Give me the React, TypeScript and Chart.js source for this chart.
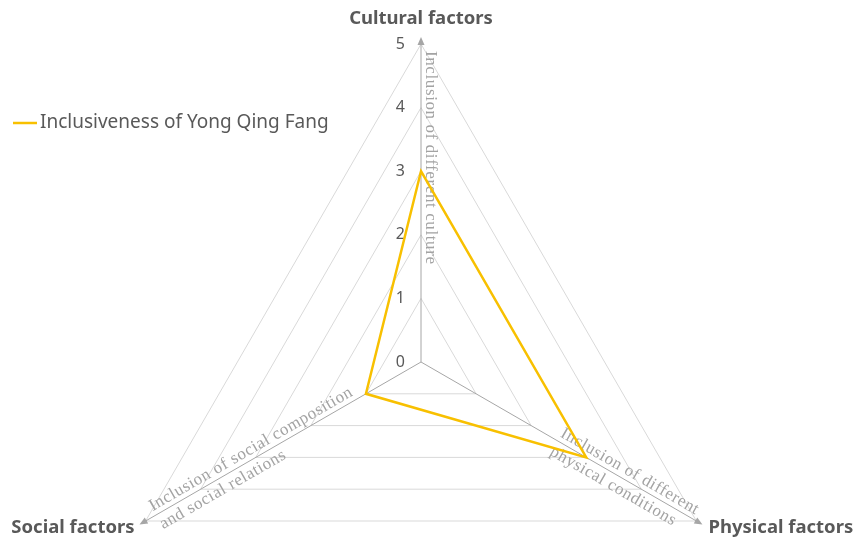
import React, { useEffect, useRef } from 'react';
import { Chart, registerables } from 'chart.js';

Chart.register(...registerables);

// ---- data ----
const categories = ['Cultural factors', 'Physical factors', 'Social factors'];
const seriesLabel = 'Inclusiveness of Yong Qing Fang';
const seriesValues = [3, 3, 1];
const tickValues = [0, 1, 2, 3, 4, 5];
const axisNotes = [
  ['Inclusion of different culture'],
  ['Inclusion of different', 'physical conditions'],
  ['Inclusion of social composition', 'and social relations'],
];

// ---- styles ----
const LINE_COLOR = '#F8C000';
const GRID_COLOR = '#d9d9d9';
const AXIS_COLOR = '#a6a6a6';
const NOTE_COLOR = '#a3a3a3';
const TEXT_COLOR = '#595959';
const NOTE_LAYOUT = [
  { start: 311, outward: false },
  { start: 157, outward: true },
  { start: 307, outward: false },
];

const decorPlugin = {
  id: 'decor',
  beforeDatasetsDraw(chart: any) {
    const scale = chart.scales.r;
    const ctx: CanvasRenderingContext2D = chart.ctx;
    const R = scale.getDistanceFromCenterForValue(scale.max);
    const cx = scale.xCenter;
    const cy = scale.yCenter;
    ctx.save();
    // axes with arrowheads
    for (let i = 0; i < categories.length; i++) {
      const tip = scale.getPointPosition(i, R + 7);
      const end = scale.getPointPosition(i, R + 1);
      const base = scale.getPointPosition(i, R - 1);
      const a = tip.angle;
      ctx.strokeStyle = AXIS_COLOR;
      ctx.lineWidth = 1;
      ctx.beginPath();
      ctx.moveTo(cx, cy);
      ctx.lineTo(end.x, end.y);
      ctx.stroke();
      const nx = -Math.sin(a);
      const ny = Math.cos(a);
      ctx.fillStyle = AXIS_COLOR;
      ctx.beginPath();
      ctx.moveTo(tip.x, tip.y);
      ctx.lineTo(base.x + nx * 3.5, base.y + ny * 3.5);
      ctx.lineTo(base.x - nx * 3.5, base.y - ny * 3.5);
      ctx.closePath();
      ctx.fill();
    }
    // tick labels
    ctx.font = '16px "Noto Sans"';
    (ctx as any).letterSpacing = '0px';
    ctx.fillStyle = TEXT_COLOR;
    ctx.textAlign = 'right';
    ctx.textBaseline = 'middle';
    tickValues.forEach((v) => {
      const p = scale.getPointPositionForValue(0, v);
      ctx.fillText(String(v), p.x - 16, p.y);
    });
    // axis notes
    axisNotes.forEach((lines, i) => {
      const lay = NOTE_LAYOUT[i];
      const p = scale.getPointPosition(i, lay.start);
      const rot = lay.outward ? p.angle : p.angle + Math.PI;
      ctx.save();
      ctx.translate(p.x, p.y);
      ctx.rotate(rot);
      ctx.font = '17px "Liberation Serif"';
      (ctx as any).letterSpacing = '0.6px';
      ctx.fillStyle = NOTE_COLOR;
      ctx.textAlign = 'left';
      ctx.textBaseline = 'alphabetic';
      lines.forEach((t, k) => ctx.fillText(t, 0, k === 0 ? -5 : 16));
      ctx.restore();
    });
    ctx.restore();
  },
  afterDraw(chart: any) {
    const scale = chart.scales.r;
    const ctx: CanvasRenderingContext2D = chart.ctx;
    const R = scale.getDistanceFromCenterForValue(scale.max);
    ctx.save();
    (ctx as any).letterSpacing = '0px';
    // category labels
    ctx.font = 'bold 18.5px "Noto Sans"';
    ctx.fillStyle = TEXT_COLOR;
    ctx.textBaseline = 'middle';
    chart.data.labels.forEach((label: string, i: number) => {
      const tip = scale.getPointPosition(i, R + 7);
      const c = Math.cos(tip.angle);
      if (c > 0.1) {
        ctx.textAlign = 'left';
        ctx.fillText(label, tip.x + 6, tip.y + 3);
      } else if (c < -0.1) {
        ctx.textAlign = 'right';
        ctx.fillText(label, tip.x - 5, tip.y + 3);
      } else {
        const p = scale.getPointPosition(i, R + 25);
        ctx.textAlign = 'center';
        ctx.fillText(label, p.x, p.y);
      }
    });
    // legend
    const ds = chart.data.datasets[0];
    ctx.strokeStyle = ds.borderColor;
    ctx.lineWidth = 2.5;
    ctx.beginPath();
    ctx.moveTo(13, 123);
    ctx.lineTo(37, 123);
    ctx.stroke();
    ctx.font = '19px "Noto Sans"';
    ctx.textAlign = 'left';
    ctx.fillText(ds.label, 40, 123);
    ctx.restore();
  },
};

export default function App() {
  const ref = useRef<HTMLCanvasElement>(null);
  useEffect(() => {
    if (!ref.current) return;
    const chart = new Chart(ref.current, {
      type: 'radar',
      data: {
        labels: categories,
        datasets: [
          {
            label: seriesLabel,
            data: seriesValues,
            borderColor: LINE_COLOR,
            backgroundColor: 'transparent',
            borderWidth: 2.5,
            borderJoinStyle: 'miter',
            pointRadius: 0,
            pointHoverRadius: 0,
            fill: false,
          },
        ],
      },
      options: {
        responsive: false,
        animation: false,
        layout: { padding: { left: 0, right: 11, top: 44, bottom: 20 } },
        plugins: { legend: { display: false }, tooltip: { enabled: false } },
        scales: {
          r: {
            min: 0,
            max: 5,
            ticks: { stepSize: 1, display: false },
            grid: { color: GRID_COLOR, lineWidth: 1 },
            angleLines: { display: false },
            pointLabels: { display: false },
          },
        },
      },
      plugins: [decorPlugin],
    } as any);
    return () => chart.destroy();
  }, []);
  return (
    <div style={{ position: 'fixed', left: 0, top: 0, width: 853, height: 538, overflow: 'hidden', background: '#fff' }}>
      <canvas ref={ref} width={853} height={700} style={{ display: 'block' }} />
    </div>
  );
}
